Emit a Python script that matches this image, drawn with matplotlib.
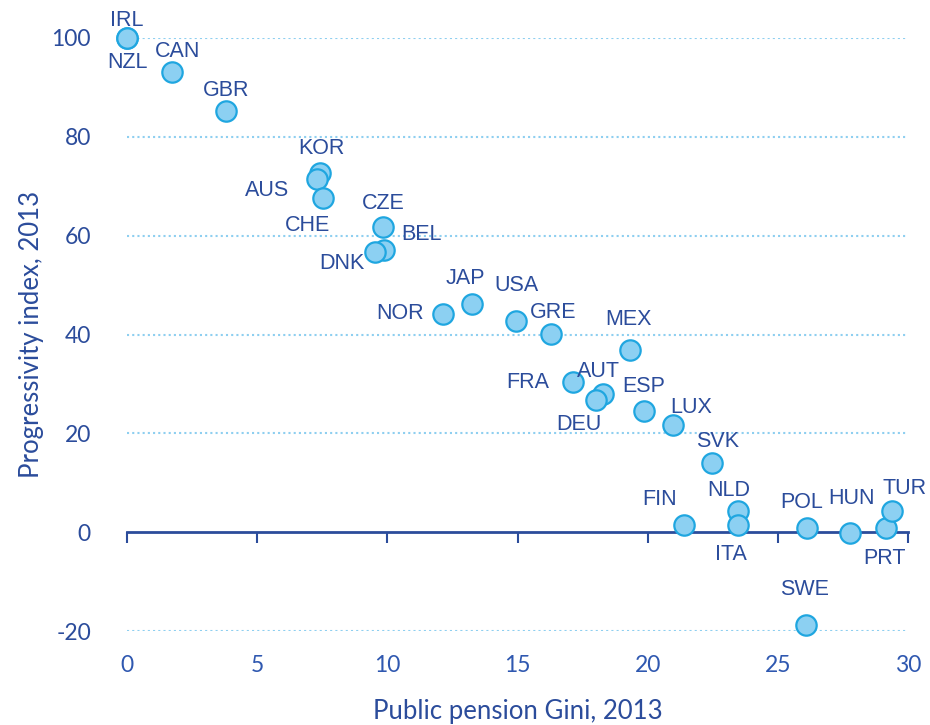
import matplotlib
matplotlib.use("Agg")
import matplotlib.pyplot as plt

# data
countries = ["IRL", "NZL", "CAN", "GBR", "KOR", "AUS", "CHE", "CZE", "BEL", "DNK",
             "JAP", "NOR", "USA", "GRE", "MEX", "FRA", "AUT", "DEU", "ESP", "LUX",
             "SVK", "FIN", "NLD", "ITA", "POL", "HUN", "PRT", "TUR", "SWE"]
gini = [0.0, 0.0, 1.74, 3.82, 7.42, 7.29, 7.53, 9.83, 9.86, 9.51,
        13.24, 12.15, 14.95, 16.27, 19.34, 17.15, 18.28, 18.02, 19.84, 20.97,
        22.48, 21.39, 23.48, 23.48, 26.13, 27.76, 29.17, 29.38, 26.10]
progressivity = [100.0, 100.0, 93.2, 85.3, 72.6, 71.5, 67.7, 61.8, 57.1, 56.7,
                 46.2, 44.2, 42.7, 40.1, 36.9, 30.3, 28.0, 26.8, 24.5, 21.7,
                 13.9, 1.4, 4.3, 1.4, 0.9, -0.2, 0.9, 4.3, -18.7]
# label placement, pixels from the marker
label_offsets = {
    "IRL": (0, 18), "NZL": (0, -24), "CAN": (5, 20), "GBR": (0, 20),
    "KOR": (1, 25), "AUS": (-50, -12), "CHE": (-16, -28), "CZE": (0, 23),
    "BEL": (38, 15), "DNK": (-33, -12), "JAP": (-6, 25), "NOR": (-43, 0),
    "USA": (0, 36), "GRE": (3, 22), "MEX": (-2, 30), "FRA": (-46, 0),
    "AUT": (-4, 22), "DEU": (-17, -25), "ESP": (0, 25), "LUX": (18, 17),
    "SVK": (5, 22), "FIN": (-24, 26), "NLD": (-10, 20), "ITA": (-7, -29),
    "POL": (-6, 25), "HUN": (2, 35), "PRT": (-2, -31), "TUR": (13, 22),
    "SWE": (-2, 35),
}
x_ticks = [0, 5, 10, 15, 20, 25, 30]
y_ticks = [-20, 0, 20, 40, 60, 80, 100]

dark = "#2B4C9B"
xtick_col = "#2F58B0"
face = "#8CD0F2"
edge = "#1FA6E0"
grid = "#8ECFF0"
tick_font = ["Lato", "DejaVu Sans"]
label_font = ["Liberation Sans", "DejaVu Sans"]

fig = plt.figure(figsize=(9.3, 7.25), dpi=100)
ax = fig.add_axes([127 / 930, 1 - 631 / 725, 781 / 930, 593 / 725])
ax.set_xlim(0, 30)
ax.set_ylim(-20, 100)

for yv in y_ticks:
    if yv != 0:
        ax.axhline(yv, color=grid, linestyle=(0, (1, 1.5)), linewidth=1.5, zorder=1)

# x axis line sits at zero, tick labels stay at the bottom
for s in ["left", "right", "top"]:
    ax.spines[s].set_visible(False)
ax.spines["bottom"].set_position(("data", 0))
ax.spines["bottom"].set_color(dark)
ax.spines["bottom"].set_linewidth(2)
ax.spines["bottom"].set_zorder(2)
ax.set_xticks(x_ticks)
ax.tick_params(axis="x", direction="out", length=8, width=1.5, color=dark, labelbottom=False)
ax.set_yticks(y_ticks)
ax.set_yticklabels([str(v) for v in y_ticks], family=tick_font, fontsize=16.5, color=dark)
ax.tick_params(axis="y", length=0, pad=26)

sec = ax.secondary_xaxis("bottom")
sec.set_xticks(x_ticks)
sec.set_xticklabels([str(v) for v in x_ticks], family=tick_font, fontsize=16.5, color=xtick_col)
sec.tick_params(length=0, pad=17)
sec.spines["bottom"].set_visible(False)
sec.set_xlabel("Public pension Gini, 2013", family=tick_font, fontsize=18.5, color=dark, labelpad=17)
ax.set_ylabel("Progressivity index, 2013", family=tick_font, fontsize=18.5, color=dark, labelpad=5)

ax.scatter(gini, progressivity, s=215, facecolor=face, edgecolor=edge, linewidth=1.6,
           zorder=3, clip_on=False)

for c, xv, yv in zip(countries, gini, progressivity):
    dx, dy = label_offsets[c]
    ax.annotate(c, (xv, yv), xytext=(dx, dy), textcoords="offset pixels",
                ha="center", va="center", family=label_font, fontsize=15.5, color=dark,
                zorder=4, annotation_clip=False)

fig.savefig("out.png", dpi=100)
